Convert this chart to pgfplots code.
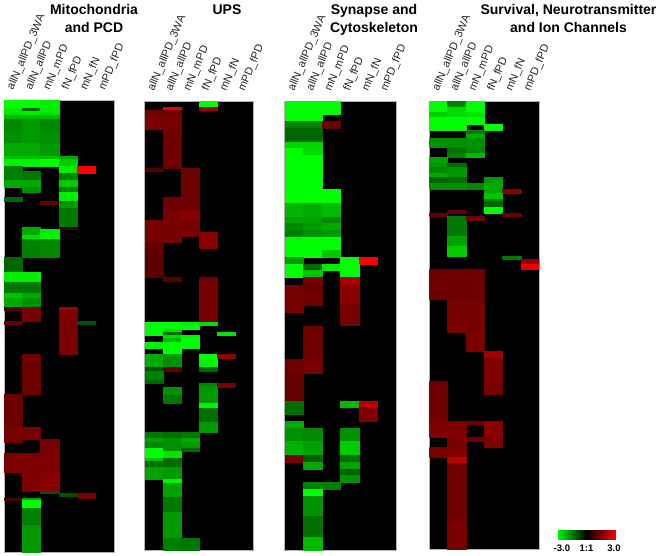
\documentclass[border=0pt]{standalone}
\usepackage{fontspec}
\setmainfont{Liberation Sans}
\usepackage{pgfplots}
\usepackage{pgfplotstable}
\pgfplotsset{compat=1.18}

% band tables: y = top of the band in image pixels, then the six columns
\pgfplotstableread{
y c0 c1 c2 c3 c4 c5
100 -3 -3 -2.8 0 0 0
108.5 -2.8 -1.2 -2.8 0 0 0
111 -2.7 -2.8 -2.7 0 0 0
115 -2.2 -2.2 -2.2 0 0 0
119.5 -1.6 -1.8 -1.6 0 0 0
133 -1.7 -1.8 -1.7 0 0 0
143 -2 -2 -1.8 0 0 0
156.5 -2.3 -2.3 -2.3 -2 0 0
159.5 -2.9 -2.9 -3 -2.4 0 0
165.7 -1.5 0 0 -2.8 3 0
170.7 -1.5 -1.4 0 -2.8 3 0
173 -1.5 -1.4 0 -1.5 0 0
180 -2 -2 0 -2.4 0 0
187.3 0 -1.7 0 -1.5 0 0
191.7 0 0 0 -2.8 0 0
196.7 -1.2 0 0 -2.8 0 0
201 0 0 1.2 -1.6 0 0
203.7 0 0 0 -1.8 0 0
208.3 0 0 0 -1.4 0 0
226.7 0 -2 0 0.8 0 0
229.3 0 -2 -2.8 0 0 0
235 0 -2.6 -2.9 0 0 0
239.3 0 -1.5 -1.6 0 0 0
256.7 -1.2 0 0 0 0 0
272 -2.8 -2.8 0 0 0 0
281.7 -1.4 -1.4 0 0 0 0
293.3 -2.3 -2 0 0 0 0
298.3 -2 -1.7 0 0 0 0
306.7 0.9 1.4 0 1.9 0 0
310 0 1.4 0 1.5 0 0
321 1.2 0 0 1.4 -1 0
324.3 0 0 0 1.4 0 0
354 0 1.3 0 0 0 0
394 1.3 0 0 0 0 0
426.7 1.4 1.4 0 0 0 0
439 1.3 0 1.4 0 0 0
441.7 0 0 1.4 0 0 0
452.7 1.5 1.5 1.5 0 0 0
471.7 0 1.5 1.6 0 0 0
491 0 0 -1 0 0 0
493.3 0 0 0 -1 1.4 0
496 0 0 0 0 1.4 0
498.3 0.9 -2 0 0 0 0
500 0 -3 0 0 0 0
507.7 0 -1.5 0 0 0 0
525 0 -1.8 0 0 0 0
552 0 0 0 0 0 0
}\tabA

\pgfplotstableread{
y c0 c1 c2 c3 c4 c5
101 0 0 0 -3 0 0
106.7 0 2.8 0 1.8 0 0
110 1.3 1.3 0 0 0 0
115 1.5 1.4 0 0 0 0
129.3 0 1.3 0 0 0 0
168.3 1 0 1.3 0 0 0
171 0 0 1.3 0 0 0
197.3 0 1.3 1.3 0 0 0
210 0 1.4 1.6 0 0 0
220 1.4 1.4 1.4 0 0 0
232.3 1.4 1.4 1.4 1.6 0 0
235.7 1.4 1.4 0 1.6 0 0
241.7 1.2 0 0 1.6 0 0
248.3 1.1 0 0 0 0 0
276.7 0 1 0 1.3 0 0
281 0 0 0 1.4 0 0
321.7 -3 -3 -2.8 -2.6 0 0
325 -3 -3 -3 0 0 0
329 -3 -2.6 0 0 0 0
331.7 -3 -1.3 0 0 -2.7 0
335 0 -2.6 -2.9 0 0 0
338.3 0 -2.2 -3 0 0 0
342.3 -2.9 -3 -3 0 0 0
348.3 0 -3 0 0 0 0
354 -2 -1.8 0 -3 1.7 0
358.3 -2 -1.7 0 -2.9 0 0
367.3 -1 1.2 0 -1.2 0 0
371 -1.5 0 0 0 0 0
380 -1.2 0 0 0 0 0
383.3 0 0 0 -1.6 1.4 0
386.7 0 -1.7 0 -1.8 0 0
395 0 -1.4 0 -1.8 0 0
402.7 0 0 0 -2.9 0 0
408.3 0 0 0 -1.3 0 0
421.7 0 0 0 -1.8 0 0
431.7 -1.4 -1.3 -1.4 0 0 0
437.7 -1.9 -1.7 -2 0 0 0
441.7 -1.6 -1.7 -1.8 0 0 0
447.7 -3 -1.7 -1.2 0 0 0
450.7 -3 -2.7 0 0 0 0
457.7 -2.3 -1.2 0 0 0 0
461 -1.3 -1.3 0 0 0 0
466.7 -1.9 -1.8 0 0 0 0
479.3 0 -2.9 0 0 0 0
483.3 0 -1.9 0 0 0 0
496.7 0 -1.4 0 0 0 0
511.7 0 -1.8 0 0 0 0
538.3 0 -1.5 -1.4 0 0 0
550.7 0 0 0 0 0 0
}\tabB

\pgfplotstableread{
y c0 c1 c2 c3 c4 c5
101 -3 -3 -3 0 0 0
114.3 -3 -3 0 0 0 0
121 -1.5 -1.5 1.3 0 0 0
128.3 -1.2 -1.2 0 0 0 0
141.7 -2.5 -2.5 0 0 0 0
147.7 -3 -2.6 0 0 0 0
155 -3 -3 0 0 0 0
189.3 -3 -3 -3 0 0 0
202.7 -2.1 -2 -2.2 0 0 0
216.7 -1.9 -1.9 -1.6 0 0 0
223.3 -1.6 -1.8 -2 0 0 0
230 -1.5 -1.7 -1.8 0 0 0
236.7 -3 -3 -3 0 0 0
250 -3 -3 -2.3 0 0 0
257.3 -1.8 0 0 -3 3 0
264.3 -3 -1.2 -2.8 -3 0 0
270 -3 -2.3 0 -3 0 0
276.7 0 1.4 0 1.9 0 0
280 0 1.4 0 2 0 0
284.7 1.4 1.2 0 1.6 0 0
291.7 1.4 1.3 0 1.6 0 0
305 1.4 0 0 1.4 0 0
311.7 0 0 0 1.4 0 0
325 0 0 0 0 0 0
325.7 0 1.3 0 0 0 0
359.3 1.3 1.4 0 0 0 0
373.3 1.2 0 0 0 0 0
400.7 -1.3 0 0 -2.2 2.2 0
407.3 -1.3 0 0 0 1.5 0
414 0 0 0 0 1.5 0
421 -2 0 0 0 0 0
427.7 -1.7 -1.6 0 -1.7 0 0
441 -2.1 -1.9 0 -2.4 0 0
455 1.4 -1.1 0 -1.3 0 0
461.7 0 -2 0 -1.9 0 0
468.7 0 0 0 -1.2 0 0
475.3 0 0 0 -1.7 0 0
482 0 -1.5 -1.5 0 0 0
488.7 0 -3 0 0 0 0
496 0 -1.7 0 0 0 0
516 0 -1.3 0 0 0 0
536.7 0 -2.2 0 0 0 0
550 0 0 0 0 0 0
}\tabC

\pgfplotstableread{
y c0 c1 c2 c3 c4 c5
101 -3 -1.5 -3 0 0 0
107.3 -3 -2.6 -3 0 0 0
111.7 -2.4 -2.6 -2.7 0 0 0
116.7 -3 -3 -3 0 0 0
124 -3 -3 0 -3 0 0
130 0 0 -1.5 0 0 0
134.3 0 0 -2 0 0 0
137.7 -1.7 -1.7 -1.7 0 0 0
146.7 0 -1.3 -1.6 0 0 0
153.3 0 -1.5 -2.2 0 0 0
156.7 -1.9 0 0 0 0 0
163.3 -1.8 -1.3 0 0 0 0
166.7 -1.6 -1.7 0 0 0 0
173.3 -2 -1.8 0 0 0 0
176.7 -1.2 -1.3 0 -1.8 0 0
182.7 -1.7 -1.7 -1.6 -2 0 0
189.3 0 0 0 -2 1.6 0
193.3 0 0 0 -2.3 0 0
199 0 0 0 -1.6 0 0
201 0 0 0 -1.2 0 0
206.7 0 0 0 -3 0 0
210 0 1.2 0 -3 0 0
212.7 1.2 0 0 0 1.3 0
216 0 -1.4 1.3 0 0 0
220 0 -1.4 0 0 0 0
236 0 -1.9 0 0 0 0
246 0 -2.4 0 0 0 0
256 0 0 0 0 -1.4 0
259.3 0 0 0 0 0 1.8
264.3 0 0 0 0 0 2.8
269 1.3 1.3 1.3 0 0 0
299 0 1.4 1.4 0 0 0
331.7 0 0 1.4 0 0 0
351.3 0 0 0 1.9 0 0
358.3 0 0 0 1.5 0 0
381 1.3 0 0 1.4 0 0
394 1.3 0 0 0 0 0
420.7 1.5 1.5 1.3 1.7 0 0
424 1.5 1.5 0 1.6 0 0
436.7 0 1.5 1.3 1.5 0 0
440.7 0 1.4 0 1.5 0 0
447.3 1.4 1.5 0 0 0 0
456.7 0 2.2 0 0 0 0
462.7 0 1.3 0 0 0 0
520 0 1.4 0 0 0 0
549.3 0 0 0 0 0 0
}\tabD

\pgfplotsset{
  heat/.style={
    scale only axis, width=#1,
    xmin=0, xmax=6, y dir=reverse,
    axis background/.style={fill=black},
    axis line style={draw=gray!60, line width=0.5pt},
    major tick length=0pt, ytick=\empty,
    xtick={0.5,1.5,2.5,3.5,4.5,5.5},
    xticklabels={allN\_allPD\_3WA,allN\_allPD,mN\_mPD,fN\_fPD,mN\_fN,mPD\_fPD},
    xticklabel pos=upper,
    xticklabel style={rotate=67, anchor=west, inner sep=0pt,
      font=\fontsize{11}{11}\selectfont, text=black!85, xshift=8.5pt, yshift=6.5pt},
    colormap={rg}{rgb255(0)=(0,255,0); rgb255(1)=(0,0,0); rgb255(2)=(255,0,0)},
    point meta min=-3, point meta max=3,
  }
}

% one patch plot per panel, built from the non-zero cells of its band table
\newcommand{\bands}[1]{%
  \pgfplotstablegetrowsof{#1}\pgfmathtruncatemacro\lastrow{\pgfplotsretval-2}%
  \def\coords{}%
  \pgfplotsforeachungrouped \r in {0,...,\lastrow}{%
    \pgfmathtruncatemacro\nextr{\r+1}%
    \pgfplotstablegetelem{\r}{y}\of{#1}\let\yt\pgfplotsretval
    \pgfplotstablegetelem{\nextr}{y}\of{#1}\let\yb\pgfplotsretval
    \pgfplotsforeachungrouped \c in {0,...,5}{%
      \pgfplotstablegetelem{\r}{c\c}\of{#1}\let\v\pgfplotsretval
      \ifdim\v pt=0pt\else
        \pgfmathtruncatemacro\cc{\c+1}%
        \edef\coords{\coords (\c,\yt) [\v] (\cc,\yt) [\v] (\cc,\yb) [\v] (\c,\yb) [\v] }%
      \fi
    }%
  }%
  \edef\tmp{\noexpand\addplot[patch, patch type=rectangle, shader=flat, draw=none, point meta=explicit] coordinates {\coords};}\tmp
}

\begin{document}
\begin{tikzpicture}
\useasboundingbox (0,0) rectangle (661pt,-556pt);

\begin{axis}[heat=110pt, height=452pt, at={(4pt,-100pt)}, anchor=north west, ymin=100, ymax=552]
\bands{\tabA}
\end{axis}

\begin{axis}[heat=108.6pt, height=449.7pt, at={(144.7pt,-101pt)}, anchor=north west, ymin=101, ymax=550.7]
\bands{\tabB}
\end{axis}

\begin{axis}[heat=111.3pt, height=449pt, at={(284.7pt,-101pt)}, anchor=north west, ymin=101, ymax=550]
\bands{\tabC}
\end{axis}

\begin{axis}[heat=110pt, height=448.3pt, at={(429.3pt,-101pt)}, anchor=north west, ymin=101, ymax=549.3,
  colorbar horizontal,
  colorbar style={
    at={(1.161,0.0415)}, anchor=north west,
    width=59pt, height=8.6pt, scale only axis,
    xtick={-2.5,0,2.8}, xticklabels={-3.0,1:1,3.0},
    xticklabel style={font=\fontsize{9.5}{10}\bfseries\selectfont, rotate=0, anchor=north, xshift=0pt, yshift=-2pt},
    xticklabel pos=lower,
    major tick length=0pt, axis line style={draw=none},
  }]
\bands{\tabD}
\end{axis}

\begin{scope}[every node/.style={align=center, font=\fontsize{14}{18}\bfseries\selectfont, anchor=north}]
\node at (94pt,-1pt) {Mitochondria\\and PCD};
\node at (227pt,-1pt) {UPS};
\node at (374pt,-1pt) {Synapse and\\Cytoskeleton};
\node at (568.5pt,-1pt) {Survival, Neurotransmitter\\and Ion Channels};
\end{scope}
\end{tikzpicture}
\end{document}
